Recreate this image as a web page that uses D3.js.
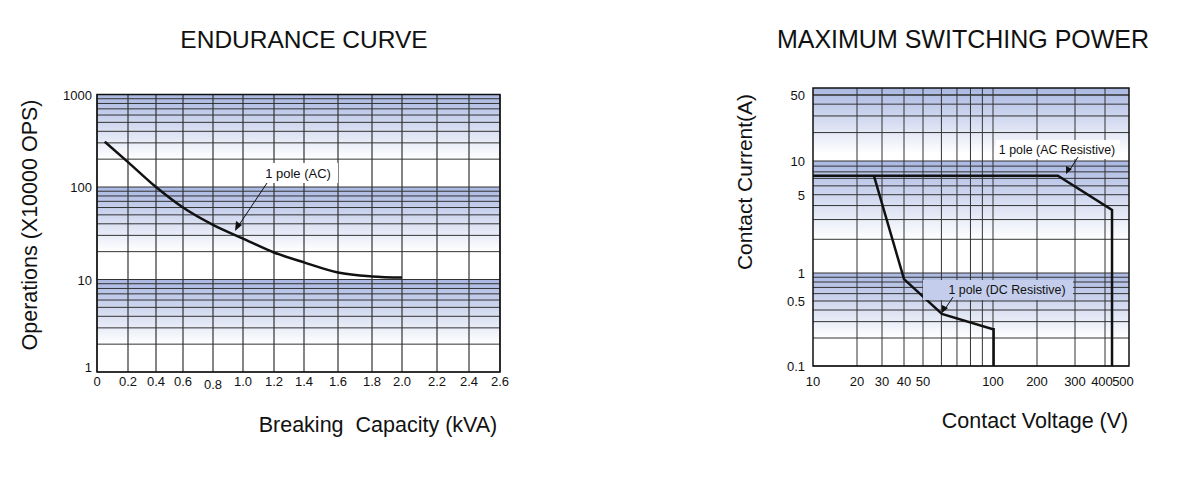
<!DOCTYPE html>
<html>
<head>
<meta charset="utf-8">
<script src="https://cdn.jsdelivr.net/npm/d3@7"></script>
<style>
  body { margin: 0; background: #fff; }
  text { font-family: "Liberation Sans", Arial, sans-serif; fill: #111; }
</style>
</head>
<body>
<svg id="chart" width="1194" height="478"></svg>
<script>
// Endurance curve data
const endTicks = [0, 0.2, 0.4, 0.6, 0.8, 1.0, 1.2, 1.4, 1.6, 1.8, 2.0, 2.2, 2.4, 2.6];
const endTickLabels = ["0", "0.2", "0.4", "0.6", "0.8", "1.0", "1.2", "1.4", "1.6", "1.8", "2.0", "2.2", "2.4", "2.6"];
const endYTicks = [1, 10, 100, 1000];
const endX = [0.05, 0.2, 0.4, 0.6, 0.8, 1.0, 1.2, 1.4, 1.6, 1.8, 2.0];
const endY = [309, 186, 100, 60, 39, 27.7, 19.6, 15.3, 11.9, 10.8, 10.5];

// Max switching power data
const swXTicks = [10, 20, 30, 40, 50, 100, 200, 300, 400, 500];
const swXGrid = [20, 30, 40, 50, 60, 70, 80, 90, 100, 200, 300, 400];
const swYTicks = [0.1, 0.5, 1, 5, 10, 50];
const acV = [10, 250, 427, 427];
const acA = [7.4, 7.4, 3.65, 0.1];
const dcV = [26.3, 40, 60.3, 100, 101, 101];
const dcA = [7.4, 0.86, 0.363, 0.249, 0.249, 0.1];

const svg = d3.select("#chart");
const defs = svg.append("defs");
const grad = defs.append("linearGradient").attr("id", "band")
  .attr("x1", 0).attr("y1", 0).attr("x2", 0).attr("y2", 1);
grad.append("stop").attr("offset", "0%").attr("stop-color", "#aab8e2");
grad.append("stop").attr("offset", "100%").attr("stop-color", "#ffffff");

function bands(g, y, x0, x1, decades) {
  const top = y.domain()[y.domain().length - 1];
  decades.forEach(d => {
    g.append("rect")
      .attr("x", x0).attr("width", x1 - x0)
      .attr("y", y(Math.min(d, top)))
      .attr("height", y(d / 5) - y(Math.min(d, top)))
      .attr("fill", "url(#band)");
  });
}

function minorLog(lo, hi) {
  const out = [];
  for (let p = lo; p < hi; p *= 10)
    for (let k = 1; k <= 9; k++) if (p * k <= hi) out.push(p * k);
  out.push(hi);
  return out;
}

// ---------- Endurance curve ----------
{
  const x = d3.scaleLinear().domain(endTicks)
    .range([97, 128, 156, 183, 213, 243, 274, 304, 338, 372, 402, 437, 469, 500]);
  const y = d3.scaleLog().domain([1, 1000]).range([372, 94.5]);
  const g = svg.append("g");

  bands(g, y, 97, 500, [1000, 100, 10]);
  g.selectAll(".hg").data(minorLog(1, 1000)).join("line")
    .attr("x1", 97).attr("x2", 500).attr("y1", d => y(d)).attr("y2", d => y(d))
    .attr("stroke", "#333").attr("stroke-width", 1);
  g.selectAll(".vg").data(endTicks).join("line")
    .attr("x1", d => x(d)).attr("x2", d => x(d)).attr("y1", 94.5).attr("y2", 372)
    .attr("stroke", "#333").attr("stroke-width", 1.2);
  g.append("rect").attr("x", 97).attr("y", 94.5).attr("width", 403).attr("height", 277.5)
    .attr("fill", "none").attr("stroke", "#111").attr("stroke-width", 1.5);

  g.selectAll(".xt").data(endTicks).join("text")
    .attr("x", d => x(d)).attr("y", (d, i) => i === 4 ? 389 : 386)
    .attr("text-anchor", "middle").attr("font-size", 13).text((d, i) => endTickLabels[i]);
  g.selectAll(".yt").data(endYTicks).join("text")
    .attr("x", 92).attr("y", d => y(d) + (d === 1 ? 0 : 5))
    .attr("text-anchor", "end").attr("font-size", 13).text(d => d);

  const line = d3.line().x((d, i) => x(endX[i])).y(d => y(d)).curve(d3.curveMonotoneX);
  g.append("path").attr("d", line(endY)).attr("fill", "none")
    .attr("stroke", "#111").attr("stroke-width", 2.5);

  g.append("rect").attr("x", 258).attr("y", 163).attr("width", 80).attr("height", 20).attr("fill", "#fff");
  g.append("text").attr("x", 298).attr("y", 178).attr("text-anchor", "middle").attr("font-size", 13).text("1 pole (AC)");
  g.append("line").attr("x1", 267).attr("y1", 183).attr("x2", 237).attr("y2", 228)
    .attr("stroke", "#111").attr("stroke-width", 1);
  g.append("path").attr("d", "M235,231 L236,221 L242,225 Z").attr("fill", "#111");

  svg.append("text").attr("x", 304).attr("y", 48).attr("text-anchor", "middle").attr("font-size", 24.5).text("ENDURANCE CURVE");
  svg.append("text").attr("transform", "translate(37,225) rotate(-90)").attr("text-anchor", "middle")
    .attr("font-size", 21.5).text("Operations (X10000 OPS)");
  svg.append("text").attr("x", 378).attr("y", 432).attr("text-anchor", "middle").attr("font-size", 21.5)
    .style("white-space", "pre").text("Breaking  Capacity (kVA)");
}

// ---------- Maximum switching power ----------
{
  const x = d3.scaleLog().domain(swXTicks)
    .range([813, 857, 882, 904, 923, 993, 1037, 1075, 1105, 1129]);
  const y = d3.scaleLog().domain([0.1, 1, 10, 50, 60]).range([366, 273, 161, 95, 88]);
  const g = svg.append("g");

  bands(g, y, 813, 1129, [60, 10, 1]);
  g.selectAll(".hg").data(minorLog(0.1, 50)).join("line")
    .attr("x1", 813).attr("x2", 1129).attr("y1", d => y(d)).attr("y2", d => y(d))
    .attr("stroke", "#333").attr("stroke-width", 1);
  g.selectAll(".vg").data(swXGrid).join("line")
    .attr("x1", d => x(d)).attr("x2", d => x(d)).attr("y1", 88).attr("y2", 366)
    .attr("stroke", "#333").attr("stroke-width", 1);
  g.append("rect").attr("x", 813).attr("y", 88).attr("width", 316).attr("height", 278)
    .attr("fill", "none").attr("stroke", "#111").attr("stroke-width", 1.5);

  g.selectAll(".xt").data(swXTicks).join("text")
    .attr("x", d => x(d) + (d === 500 ? -6 : d === 400 ? -3 : 0)).attr("y", 386)
    .attr("text-anchor", "middle").attr("font-size", 13).text(d => d);
  g.selectAll(".yt").data(swYTicks).join("text")
    .attr("x", 805).attr("y", d => y(d) + 5)
    .attr("text-anchor", "end").attr("font-size", 13).text(d => d);

  const line = d3.line().x(d => x(d[0])).y(d => y(d[1]));
  g.append("path").attr("d", line(acV.map((v, i) => [v, acA[i]]))).attr("fill", "none")
    .attr("stroke", "#111").attr("stroke-width", 2.5);
  g.append("path").attr("d", line(dcV.map((v, i) => [v, dcA[i]]))).attr("fill", "none")
    .attr("stroke", "#111").attr("stroke-width", 2.5);

  g.append("rect").attr("x", 996).attr("y", 140).attr("width", 124).attr("height", 19).attr("fill", "#fff");
  g.append("text").attr("x", 1057).attr("y", 154).attr("text-anchor", "middle").attr("font-size", 12.4).text("1 pole (AC Resistive)");
  g.append("line").attr("x1", 1078).attr("y1", 157).attr("x2", 1069).attr("y2", 171)
    .attr("stroke", "#111").attr("stroke-width", 1);
  g.append("path").attr("d", "M1066,174 L1066,166 L1072,169 Z").attr("fill", "#111");

  g.append("rect").attr("x", 923).attr("y", 280).attr("width", 150).attr("height", 20).attr("fill", "#c4cdeb");
  g.append("text").attr("x", 1007).attr("y", 294).attr("text-anchor", "middle").attr("font-size", 12.4).text("1 pole (DC Resistive)");
  g.append("line").attr("x1", 953).attr("y1", 297).attr("x2", 945).attr("y2", 309)
    .attr("stroke", "#111").attr("stroke-width", 1);
  g.append("path").attr("d", "M942,313 L942,305 L948,308 Z").attr("fill", "#111");

  svg.append("text").attr("x", 963).attr("y", 48).attr("text-anchor", "middle").attr("font-size", 25).text("MAXIMUM SWITCHING POWER");
  svg.append("text").attr("transform", "translate(752,182) rotate(-90)").attr("text-anchor", "middle")
    .attr("font-size", 21).text("Contact Current(A)");
  svg.append("text").attr("x", 1035).attr("y", 428).attr("text-anchor", "middle").attr("font-size", 21.5).text("Contact Voltage (V)");
}
</script>
</body>
</html>
